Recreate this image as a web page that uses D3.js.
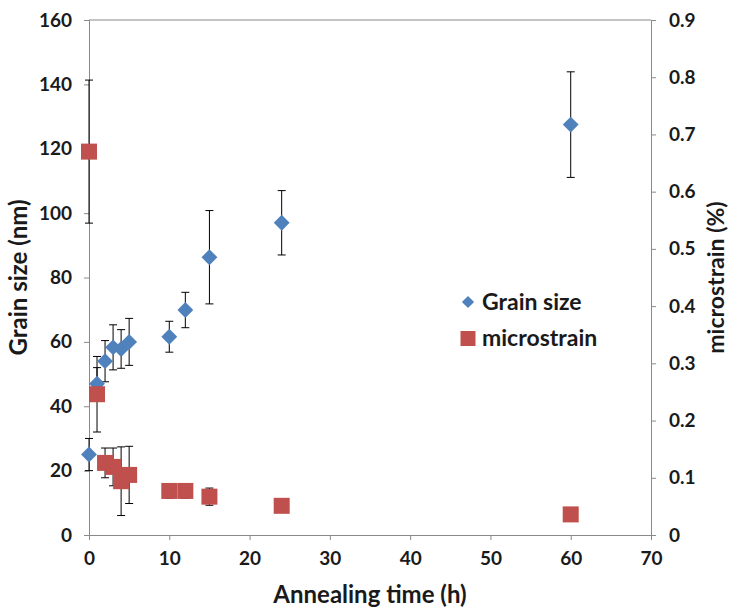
<!DOCTYPE html>
<html>
<head>
<meta charset="utf-8">
<script src="https://cdn.jsdelivr.net/npm/d3@7"></script>
<style>
  body { margin: 0; background: #fff; }
  text { font-family: Lato, "Open Sans", sans-serif; font-weight: bold; fill: #1a1a1a; }
</style>
</head>
<body>
<div id="chart"></div>
<script>
// annealing times (h)
const grainTime = [0, 1, 2, 3, 4, 5, 10, 12, 15, 24, 60];
const grainSize = [25, 47, 54, 58.3, 57.8, 60, 61.6, 69.9, 86.3, 97, 127.5];
const grainErr = [5, 5, 6.4, 7, 6, 7.3, 4.8, 5.5, 14.5, 10, 16.4];

const strainTime = [0, 1, 2, 3, 4, 5, 10, 12, 15, 24, 60];
const strain = [0.67, 0.246, 0.126, 0.119, 0.094, 0.105, 0.077, 0.077, 0.067, 0.051, 0.036];
const strainErr = [0.125, 0.066, 0.026, 0.033, 0.06, 0.05, 0.013, 0.013, 0.015, 0, 0];

const xTicks = [0, 10, 20, 30, 40, 50, 60, 70];
const yTicks = [0, 20, 40, 60, 80, 100, 120, 140, 160];
const y2Ticks = [0, 0.1, 0.2, 0.3, 0.4, 0.5, 0.6, 0.7, 0.8, 0.9];

const width = 731, height = 613;
const margin = {top: 20, right: 80, bottom: 78, left: 89};

const svg = d3.select('#chart')
  .append('svg')
    .attr('width', width)
    .attr('height', height);

const x = d3.scaleLinear().domain([0, 70]).range([margin.left, width - margin.right]);
const y = d3.scaleLinear().domain([0, 160]).range([height - margin.bottom, margin.top]);
const y2 = d3.scaleLinear().domain([0, 0.9]).range([height - margin.bottom, margin.top]);

const axisColor = '#898989';

// top border line
svg.append('line')
    .attr('x1', x(0)).attr('x2', x(70))
    .attr('y1', y(160)).attr('y2', y(160))
    .attr('stroke', axisColor);

// axes
const xAxis = svg.append('g')
    .attr('transform', `translate(0,${y(0)})`)
    .call(d3.axisBottom(x).tickValues(xTicks).tickSize(5).tickPadding(12));
const yAxis = svg.append('g')
    .attr('transform', `translate(${x(0)},0)`)
    .call(d3.axisLeft(y).tickValues(yTicks).tickSize(5).tickPadding(12));
const y2Axis = svg.append('g')
    .attr('transform', `translate(${x(70)},0)`)
    .call(d3.axisRight(y2).tickValues(y2Ticks).tickSize(5).tickPadding(13)
      .tickFormat(d => d === 0 ? '0' : d3.format('.1f')(d)));

[xAxis, yAxis, y2Axis].forEach(a => {
  a.select('.domain').attr('stroke', axisColor);
  a.selectAll('.tick line').attr('stroke', axisColor);
  a.selectAll('.tick text')
    .style('font-size', '19px')
    .style('font-family', 'Lato, "Open Sans", sans-serif')
    .style('font-weight', 'bold')
    .attr('fill', '#1a1a1a');
});

const blue = '#4f81bd', red = '#c0504d';
const cap = 4;

// error bars
function errorBars(times, vals, errs, scale) {
  const g = svg.append('g').attr('stroke', '#000').attr('stroke-width', 1);
  times.forEach((t, i) => {
    if (!errs[i]) return;
    const cx = x(t), lo = scale(vals[i] - errs[i]), hi = scale(vals[i] + errs[i]);
    g.append('line').attr('x1', cx).attr('x2', cx).attr('y1', lo).attr('y2', hi);
    g.append('line').attr('x1', cx - cap).attr('x2', cx + cap).attr('y1', lo).attr('y2', lo);
    g.append('line').attr('x1', cx - cap).attr('x2', cx + cap).attr('y1', hi).attr('y2', hi);
  });
}
errorBars(grainTime, grainSize, grainErr, y);
errorBars(strainTime, strain, strainErr, y2);

// markers
svg.append('g').selectAll('path')
  .data(grainTime)
  .join('path')
    .attr('d', d3.symbol(d3.symbolDiamond2, 160))
    .attr('transform', (d, i) => `translate(${x(d)},${y(grainSize[i])})`)
    .attr('fill', blue);

svg.append('g').selectAll('rect')
  .data(strainTime)
  .join('rect')
    .attr('x', d => x(d) - 8)
    .attr('y', (d, i) => y2(strain[i]) - 8)
    .attr('width', 16)
    .attr('height', 16)
    .attr('fill', red);

// legend
const legend = svg.append('g').attr('transform', 'translate(468,302)');
legend.append('path')
    .attr('d', d3.symbol(d3.symbolDiamond2, 95))
    .attr('fill', blue);
legend.append('text').attr('x', 14).attr('y', 8).style('font-size', '23px').text('Grain size');
legend.append('rect').attr('x', -7.5).attr('y', 29).attr('width', 15).attr('height', 15).attr('fill', red);
legend.append('text').attr('x', 14).attr('y', 44).style('font-size', '23px').text('microstrain');

// axis titles
svg.append('text')
    .attr('x', x(35)).attr('y', 603)
    .attr('text-anchor', 'middle')
    .style('font-size', '24px')
    .text('Annealing time (h)');
svg.append('text')
    .attr('transform', `translate(27,${(y(0) + y(160)) / 2}) rotate(-90)`)
    .attr('text-anchor', 'middle')
    .style('font-size', '24px')
    .text('Grain size (nm)');
svg.append('text')
    .attr('transform', `translate(724,${(y(0) + y(160)) / 2}) rotate(-90)`)
    .attr('text-anchor', 'middle')
    .style('font-size', '23px')
    .text('microstrain (%)');
</script>
</body>
</html>
